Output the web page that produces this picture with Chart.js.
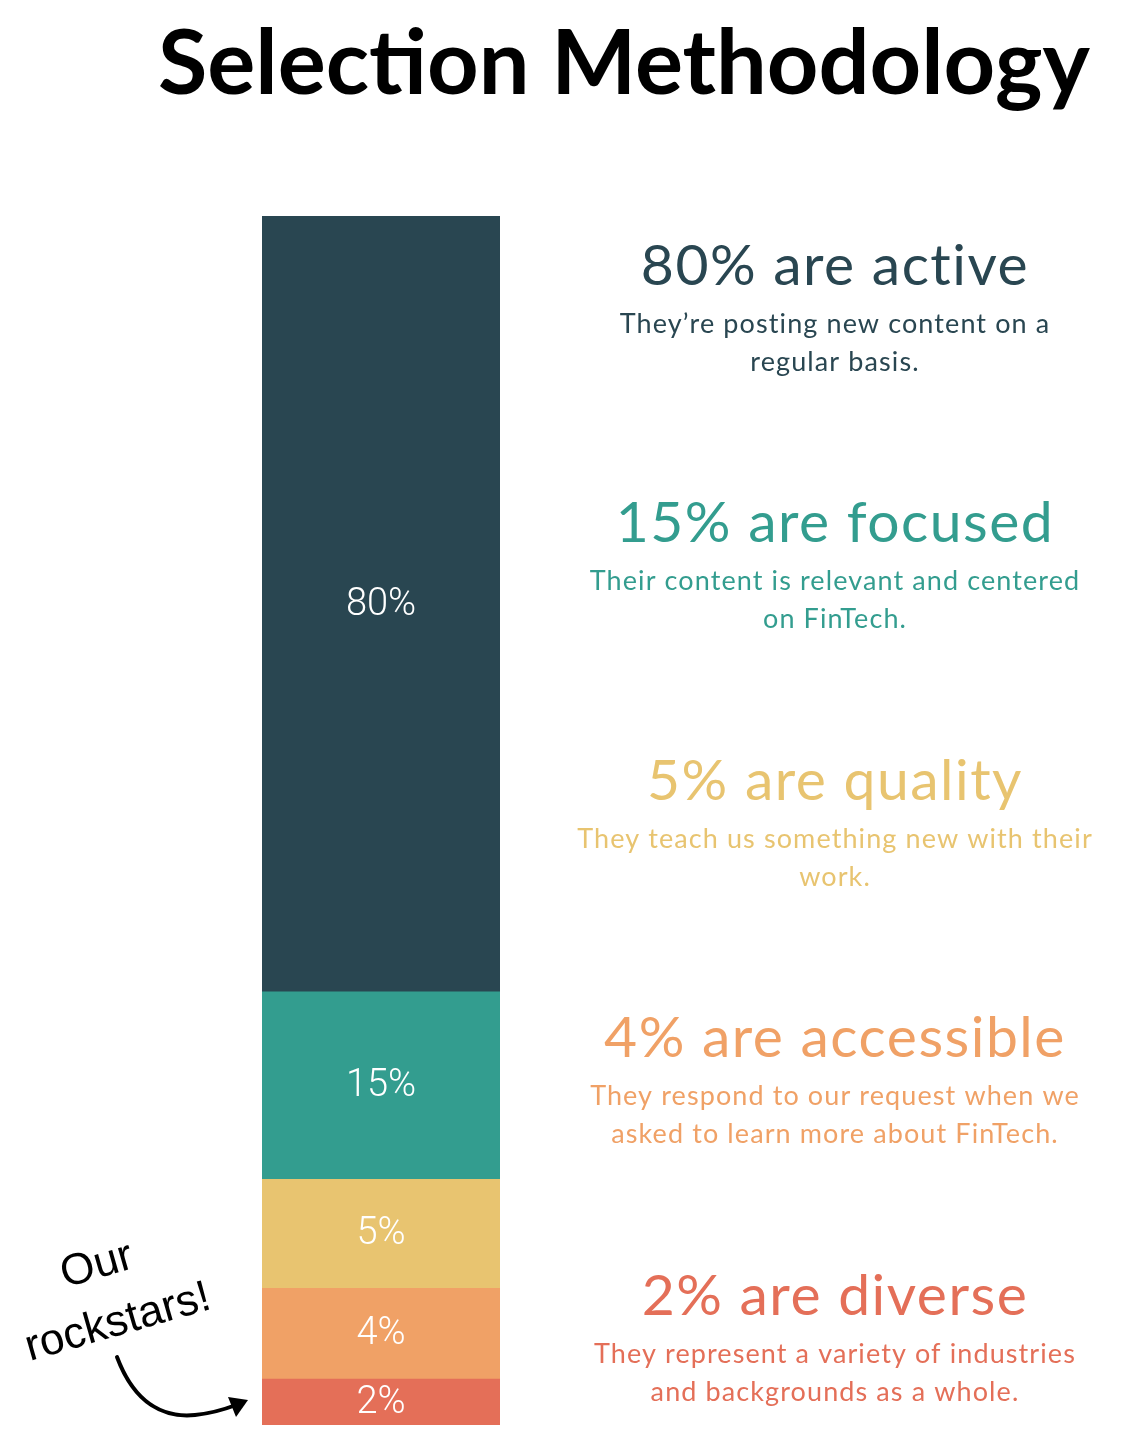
<!DOCTYPE html>
<html>
<head>
<meta charset="utf-8">
<script src="https://cdn.jsdelivr.net/npm/chart.js@4/dist/chart.umd.min.js"></script>
<style>
  html, body { margin: 0; padding: 0; background: #ffffff; }
  #wrap { width: 1124px; height: 1448px; position: relative; }
</style>
</head>
<body>
<div id="wrap"><canvas id="c" width="1124" height="1448"></canvas></div>
<script>
// ---- data ----
const chartTitle = 'Selection Methodology';
const categories = ['active', 'focused', 'quality', 'accessible', 'diverse'];
const sharePct = [80, 15, 5, 4, 2];                    // labelled percentages
const barShare = [64.1, 15.5, 9.0, 7.5, 3.8];           // visible share of the bar height
const headings = ['80% are active', '15% are focused', '5% are quality', '4% are accessible', '2% are diverse'];
const descriptions = [
  ["They\u2019re posting new content on a", 'regular basis.'],
  ['Their content is relevant and centered', 'on FinTech.'],
  ['They teach us something new with their', 'work.'],
  ['They respond to our request when we', 'asked to learn more about FinTech.'],
  ['They represent a variety of industries', 'and backgrounds as a whole.']
];
const noteLines = ['Our', 'rockstars!'];

// ---- styles ----
const colors = ['#294651', '#339d8f', '#e8c470', '#f0a166', '#e46f58'];

// stacked bottom-up: last category at the bottom
const order = [4, 3, 2, 1, 0];
const datasets = order.map(i => ({
  label: categories[i],
  data: [barShare[i]],
  backgroundColor: colors[i],
  borderWidth: 0,
  barPercentage: 1.0,
  categoryPercentage: 1.0,
  pct: sharePct[i]
}));

function fitFont(ctx, text, weight, family, targetW, base) {
  ctx.font = weight + ' ' + base + 'px ' + family;
  const w = ctx.measureText(text).width;
  return base * targetW / w;
}

const overlay = {
  id: 'overlay',
  afterDraw(chart) {
    const ctx = chart.ctx;
    ctx.save();
    // Title
    const tf = '"Lato", "Noto Sans", sans-serif';
    let ts = fitFont(ctx, chartTitle, '700', tf, 932, 80);
    ctx.font = '700 ' + ts + 'px ' + tf;
    ctx.fillStyle = '#000000';
    ctx.textAlign = 'center';
    ctx.textBaseline = 'alphabetic';
    ctx.fillText(chartTitle, 624, 94);

    // Bar labels
    ctx.font = '300 38px "Roboto", "Liberation Sans", sans-serif';
    ctx.fillStyle = '#ffffff';
    ctx.textBaseline = 'middle';
    chart.data.datasets.forEach((ds, di) => {
      const el = chart.getDatasetMeta(di).data[0];
      const cy = (el.y + el.base) / 2;
      ctx.fillText(ds.pct + '%', el.x, cy + 1);
    });

    // Side text blocks
    const hf = '"Lato", "Noto Sans", sans-serif';
    const centers = [265, 522, 780, 1037, 1295];
    const cx = 835;
    ctx.textBaseline = 'alphabetic';
    headings.forEach((h, i) => {
      ctx.fillStyle = colors[i];
      ctx.letterSpacing = '1.5px';
      ctx.font = '400 57px ' + hf;
      ctx.fillText(h, cx, centers[i] + 20);
      ctx.letterSpacing = '1.1px';
      ctx.font = '400 27px ' + hf;
      descriptions[i].forEach((line, j) => {
        ctx.fillText(line, cx, centers[i] + 68 + j * 38);
      });
    });
    ctx.letterSpacing = '0px';

    // Hand-written note
    ctx.fillStyle = '#000000';
    ctx.font = '400 44px "Liberation Sans", "DejaVu Sans", sans-serif';
    ctx.textAlign = 'center';
    ctx.textBaseline = 'middle';
    ctx.save();
    ctx.translate(97, 1266);
    ctx.rotate(-16 * Math.PI / 180);
    ctx.fillText(noteLines[0], 0, 0);
    ctx.restore();
    ctx.save();
    ctx.translate(118, 1323);
    ctx.rotate(-16 * Math.PI / 180);
    ctx.fillText(noteLines[1], 0, 0);
    ctx.restore();

    // Curved arrow
    ctx.strokeStyle = '#000000';
    ctx.lineWidth = 4;
    ctx.lineCap = 'round';
    ctx.beginPath();
    ctx.moveTo(117, 1357);
    ctx.bezierCurveTo(135, 1405, 165, 1418, 195, 1415);
    ctx.quadraticCurveTo(215, 1413, 236, 1405);
    ctx.stroke();
    ctx.fillStyle = '#000000';
    ctx.beginPath();
    ctx.moveTo(248, 1400);
    ctx.lineTo(228, 1397);
    ctx.lineTo(236, 1417);
    ctx.closePath();
    ctx.fill();
    ctx.restore();
  }
};

new Chart(document.getElementById('c'), {
  type: 'bar',
  data: { labels: ['share'], datasets: datasets },
  options: {
    responsive: false,
    animation: false,
    devicePixelRatio: 1,
    layout: { padding: { left: 262, right: 624, top: 215, bottom: 23 } },
    plugins: { legend: { display: false }, tooltip: { enabled: false }, title: { display: false } },
    scales: {
      x: { stacked: true, display: false, grid: { display: false } },
      y: { stacked: true, display: false, min: 0, max: 100, grid: { display: false } }
    }
  },
  plugins: [overlay]
});
</script>
</body>
</html>
